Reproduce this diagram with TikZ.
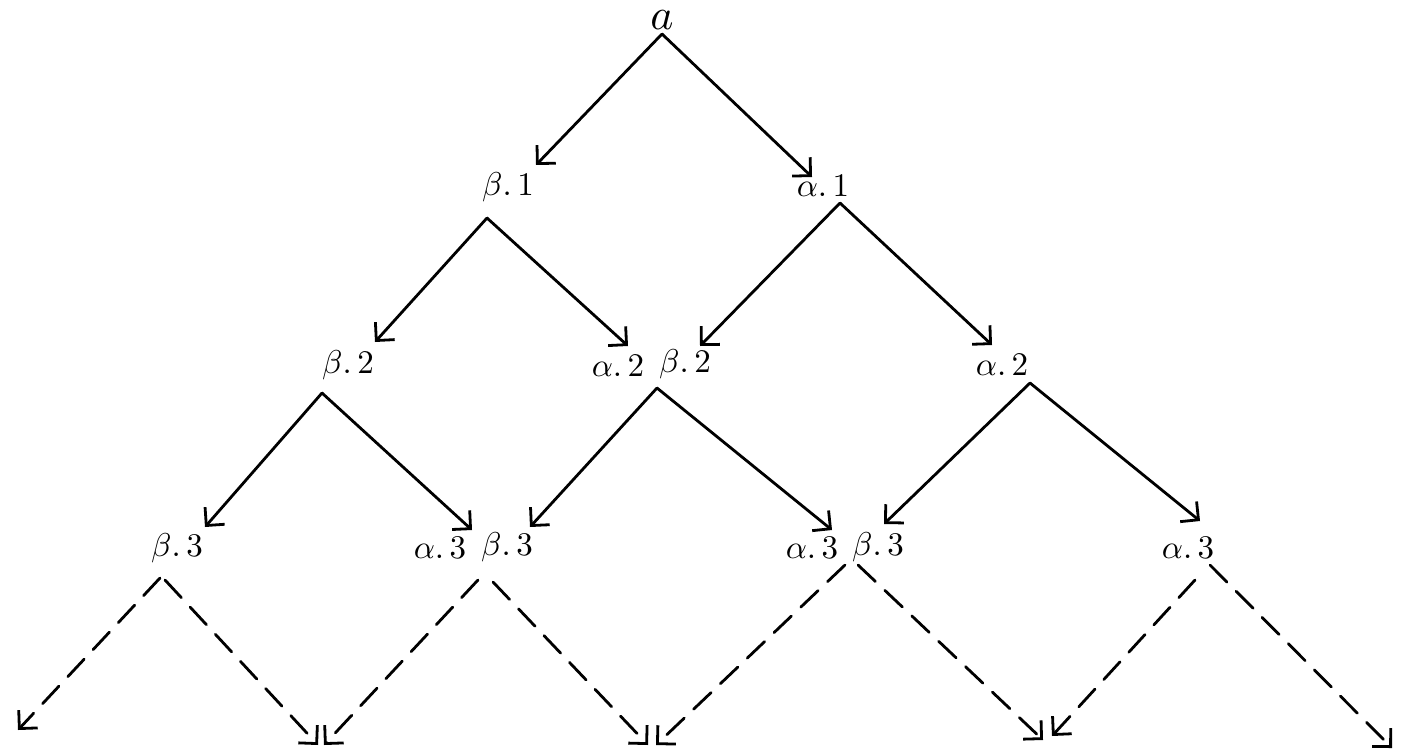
\documentclass[tikz,border=0pt]{standalone}
\usetikzlibrary{arrows.meta}
\begin{document}
\begin{tikzpicture}[x=1pt,y=-1pt,
  lab/.style={inner sep=0pt, scale=3.3},
  arr/.style={line width=2.8pt, line cap=round, -{Straight Barb[length=13pt,width=26pt,line width=2.8pt]}},
  darr/.style={arr, dash pattern=on 24pt off 13pt}]
\useasboundingbox (0,0) rectangle (1420,754);
% labels
\node[lab, scale=1.33] (a) at (662,20)  {$a$};
\node[lab] (b1)  at (508,187) {$\beta.\,1$};
\node[lab] (a1)  at (823,186) {$\alpha.\,1$};
\node[lab] (b2)  at (348,365) {$\beta.\,2$};
\node[lab] (a2m) at (618,366) {$\alpha.\,2$};
\node[lab] (b2m) at (685,364) {$\beta.\,2$};
\node[lab] (a2)  at (1002,365) {$\alpha.\,2$};
\node[lab] (b3)  at (177,548) {$\beta.\,3$};
\node[lab] (a3l) at (440,548) {$\alpha.\,3$};
\node[lab] (b3l) at (507,547) {$\beta.\,3$};
\node[lab] (a3m) at (812,548) {$\alpha.\,3$};
\node[lab] (b3m) at (878,547) {$\beta.\,3$};
\node[lab] (a3)  at (1188,548) {$\alpha.\,3$};
% tails
\coordinate (s-a)   at (662,34);
\coordinate (s-b1)  at (487,218);
\coordinate (s-a1)  at (840,203);
\coordinate (s-b2)  at (322,393);
\coordinate (s-m2)  at (657,388);
\coordinate (s-a2)  at (1030,383);
\coordinate (s-b3l) at (160,578);
\coordinate (s-b3r) at (165,580);
\coordinate (s-l3l) at (478,580);
\coordinate (s-l3r) at (493,582);
\coordinate (s-m3l) at (845,565);
\coordinate (s-m3r) at (858,565);
\coordinate (s-a3l) at (1195,580);
\coordinate (s-a3r) at (1210,565);
% tips
\coordinate (t-b1)  at (536,165);
\coordinate (t-a1)  at (812,177);
\coordinate (t-b2)  at (375,342);
\coordinate (t-a2m) at (628,346);
\coordinate (t-b2m) at (700,346);
\coordinate (t-a2)  at (992,345);
\coordinate (t-b3)  at (205,527);
\coordinate (t-a3l) at (472,530);
\coordinate (t-b3l) at (530,527);
\coordinate (t-a3m) at (832,530);
\coordinate (t-b3m) at (884,524);
\coordinate (t-a3)  at (1200,521);
\coordinate (t-1) at (18,730);
\coordinate (t-2) at (318,745);
\coordinate (t-3) at (324,745);
\coordinate (t-4) at (648,745);
\coordinate (t-5) at (656,745);
\coordinate (t-6) at (1043,740);
\coordinate (t-7) at (1052,736);
\coordinate (t-8) at (1392,748);
% solid connectors
\draw[arr] (s-a) -- (t-b1);
\draw[arr] (s-a) -- (t-a1);
\draw[arr] (s-b1) -- (t-b2);
\draw[arr] (s-b1) -- (t-a2m);
\draw[arr] (s-a1) -- (t-b2m);
\draw[arr] (s-a1) -- (t-a2);
\draw[arr] (s-b2) -- (t-b3);
\draw[arr] (s-b2) -- (t-a3l);
\draw[arr] (s-m2) -- (t-b3l);
\draw[arr] (s-m2) -- (t-a3m);
\draw[arr] (s-a2) -- (t-b3m);
\draw[arr] (s-a2) -- (t-a3);
% dashed connectors
\draw[darr] (s-b3l) -- (t-1);
\draw[darr] (s-b3r) -- (t-2);
\draw[darr] (s-l3l) -- (t-3);
\draw[darr] (s-l3r) -- (t-4);
\draw[darr] (s-m3l) -- (t-5);
\draw[darr] (s-m3r) -- (t-6);
\draw[darr] (s-a3l) -- (t-7);
\draw[darr] (s-a3r) -- (t-8);
\end{tikzpicture}
\end{document}
